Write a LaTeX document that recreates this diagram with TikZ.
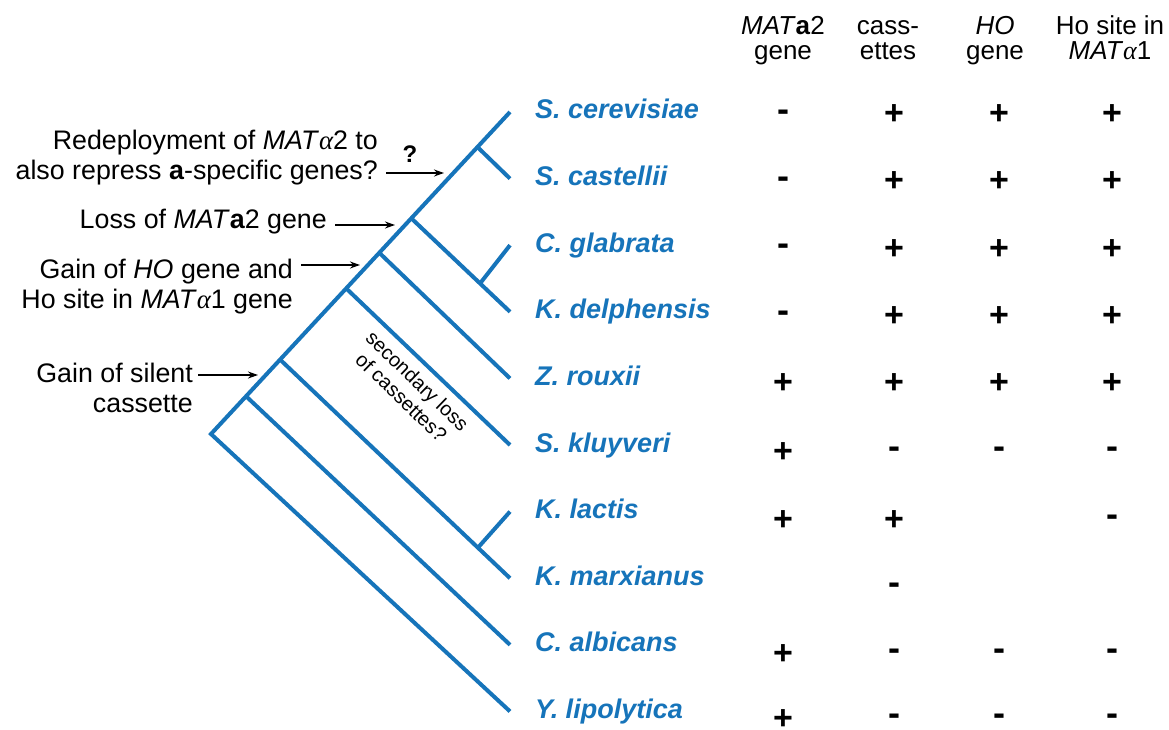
\documentclass[tikz,border=0pt]{standalone}
\usepackage{fontspec}
\setmainfont{Liberation Sans}
\newfontfamily\grkfont{Liberation Serif}
\usetikzlibrary{arrows.meta}
\definecolor{treeblue}{RGB}{22,116,186}
\newcommand{\alp}{{\grkfont\itshape α}}
\newcommand{\cellmark}[4]{\ifcase#4\or\node[plusmark] (#1) at (#2,#3) {+};\or\node[minusmark] (#1) at (#2,#3) {-};\fi}
\begin{document}
\begin{tikzpicture}[x=1pt,y=-1pt,
  branch/.style={draw=treeblue, line width=4pt, line join=miter},
  species/.style={anchor=base west, inner sep=0pt, text=treeblue, font=\fontsize{27}{30}\selectfont\bfseries\itshape},
  annot/.style={align=right, anchor=base east, inner sep=0pt, font=\fontsize{26.8}{30}\selectfont},
  hdr/.style={align=center, anchor=base, inner sep=0pt, font=\fontsize{26}{25}\selectfont},
  plusmark/.style={anchor=base, inner sep=0pt, yshift=-12pt, font=\fontsize{34}{34}\selectfont\bfseries},
  minusmark/.style={anchor=base, inner sep=0pt, yshift=-8.4pt, font=\fontsize{36}{36}\selectfont\bfseries},
  pointer/.style={draw=black, line width=1.4pt, -{Stealth[length=10pt,width=7pt]}}
]
\fill[white] (0,0) rectangle (1169,730);
\useasboundingbox (0,0) rectangle (1169,730);

% tips
\coordinate (tSce) at (510,112);
\coordinate (tSca) at (510,178.6);
\coordinate (tCgl) at (510,245.2);
\coordinate (tKde) at (510,311.8);
\coordinate (tZro) at (510,378.4);
\coordinate (tSkl) at (510,445);
\coordinate (tKla) at (510,511.6);
\coordinate (tKma) at (510,578.2);
\coordinate (tCal) at (510,644.8);
\coordinate (tYli) at (510,711.4);
% internal nodes
\coordinate (R) at (211,434);
\coordinate (n1) at (246,396.2);
\coordinate (n2) at (280,359.5);
\coordinate (n3) at (346,288.2);
\coordinate (n4) at (379,252.5);
\coordinate (n5) at (411,218);
\coordinate (n6) at (477,146.6);
\coordinate (m1) at (478,547.6);
\coordinate (m2) at (480,283.5);

% tree
\draw[branch] (tYli) -- (R) -- (tSce);
\draw[branch] (n1) -- (tCal);
\draw[branch] (n2) -- (tKma);
\draw[branch] (m1) -- (tKla);
\draw[branch] (n3) -- (tSkl);
\draw[branch] (n4) -- (tZro);
\draw[branch] (n5) -- (tKde);
\draw[branch] (m2) -- (tCgl);
\draw[branch] (n6) -- (tSca);

% species
\node[species] (sSce) at (535,119) {S. cerevisiae};
\node[species] (sSca) at (535,185.6) {S. castellii};
\node[species] (sCgl) at (535,252.2) {C. glabrata};
\node[species] (sKde) at (535,318.8) {K. delphensis};
\node[species] (sZro) at (535,385.4) {Z. rouxii};
\node[species] (sSkl) at (535,452) {S. kluyveri};
\node[species] (sKla) at (535,518.6) {K. lactis};
\node[species] (sKma) at (535,585.2) {K. marxianus};
\node[species] (sCal) at (535,651.8) {C. albicans};
\node[species] (sYli) at (535,718.4) {Y. lipolytica};

% annotations (base = baseline of last line)
\node[annot] (lab1) at (378,180) {Redeployment of \textit{MAT}\alp2 to\\also repress \textbf{a}-specific genes?};
\node[anchor=base, inner sep=0pt, font=\fontsize{24}{24}\selectfont\bfseries] (qm) at (410,163) {?};
\node[annot] (lab2) at (327,228) {Loss of \textit{MAT}\textbf{a}2 gene};
\node[annot] (lab3) at (293,308) {Gain of \textit{HO} gene and\\Ho site in \textit{MAT}\alp1 gene};
\node[annot] (lab4) at (193,412) {Gain of silent\\cassette};

\coordinate (a1s) at (386,173);
\coordinate (a1e) at (444,173);
\coordinate (a2s) at (335,225);
\coordinate (a2e) at (395,225);
\coordinate (a3s) at (301,265);
\coordinate (a3e) at (360,265);
\coordinate (a4s) at (198,375);
\coordinate (a4e) at (258,375);
\draw[pointer] (a1s) -- (a1e);
\draw[pointer] (a2s) -- (a2e);
\draw[pointer] (a3s) -- (a3e);
\draw[pointer] (a4s) -- (a4e);

\node[align=center, inner sep=0pt, rotate=-44, font=\fontsize{20}{23}\selectfont] (sec) at (409.5,389) {secondary loss\\of cassettes?};

% headers (base = baseline of second line)
\node[hdr] (h1) at (783,60) {\textit{MAT}\textbf{a}2\\gene};
\node[hdr] (h2) at (888,60) {cass-\\ettes};
\node[hdr] (h3) at (995,60) {\textit{HO}\\gene};
\node[hdr] (h4) at (1110,60) {Ho site in\\\textit{MAT}\alp1};

% table
\foreach \r/\y/\a/\b/\c/\d in {1/113/2/1/1/1, 2/180/2/1/1/1, 3/247/2/1/1/1, 4/314/2/1/1/1, 5/381/1/1/1/1, 6/450/1/2/2/2, 7/518/1/1/0/2, 8/586/0/2/0/0, 9/652/1/2/2/2, 10/717/1/2/2/2}{
  \cellmark{c\r-1}{783}{\y}{\a}
  \cellmark{c\r-2}{894}{\y}{\b}
  \cellmark{c\r-3}{999}{\y}{\c}
  \cellmark{c\r-4}{1112}{\y}{\d}
}
\end{tikzpicture}
\end{document}
